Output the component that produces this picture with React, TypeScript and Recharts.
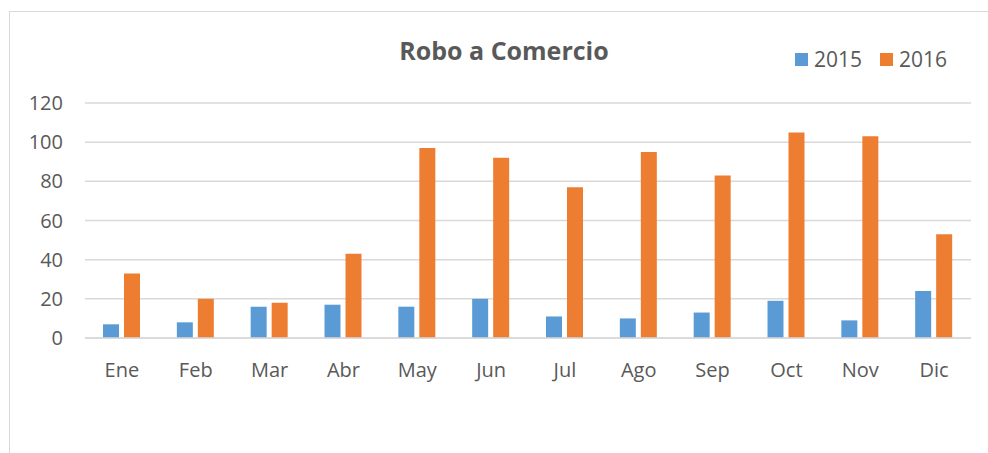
import { Bar, BarChart, CartesianGrid, XAxis, YAxis } from "recharts";

const months = ["Ene", "Feb", "Mar", "Abr", "May", "Jun", "Jul", "Ago", "Sep", "Oct", "Nov", "Dic"];
const robos2015 = [7, 8, 16, 17, 16, 20, 11, 10, 13, 19, 9, 24];
const robos2016 = [33, 20, 18, 43, 97, 92, 77, 95, 83, 105, 103, 53];
const yTicks = [0, 20, 40, 60, 80, 100, 120];

const BLUE = "#5b9bd5";
const ORANGE = "#ed7d31";
const GRID = "#d9d9d9";
const TEXT = "#595959";
const FONT = "'Open Sans', sans-serif";

const data = months.map((m, i) => ({ month: m, y2015: robos2015[i], y2016: robos2016[i] }));

const legendItems = [
  { label: "2015", color: BLUE },
  { label: "2016", color: ORANGE },
];

export default function App() {
  return (
    <div
      style={{
        position: "fixed",
        left: 0,
        top: 0,
        width: 988,
        height: 453,
        background: "#fff",
        overflow: "hidden",
        fontFamily: FONT,
      }}
    >
      <div
        style={{
          position: "absolute",
          left: 9,
          top: 11,
          width: 1000,
          height: 480,
          border: `1.5px solid ${GRID}`,
        }}
      />
      <div
        style={{
          position: "absolute",
          left: 0,
          width: 1008,
          top: 33,
          textAlign: "center",
          fontSize: 25,
          fontWeight: 700,
          color: TEXT,
        }}
      >
        Robo a Comercio
      </div>
      <div style={{ position: "absolute", left: 795, top: 45, display: "flex", fontSize: 21, color: TEXT }}>
        {legendItems.map((it) => (
          <div key={it.label} style={{ display: "flex", alignItems: "center", marginRight: 18 }}>
            <span style={{ width: 13, height: 13, background: it.color, display: "inline-block", marginRight: 6 }} />
            <span>{it.label}</span>
          </div>
        ))}
      </div>
      <div style={{ position: "absolute", left: 0, top: 0 }}>
        <BarChart
          width={988}
          height={453}
          data={data}
          margin={{ top: 103, right: 17, bottom: 75, left: 0 }}
          barSize={16}
          barGap={5}
        >
          <CartesianGrid vertical={false} stroke={GRID} strokeWidth={1.5} />
          <XAxis
            dataKey="month"
            height={40}
            tickLine={false}
            tickSize={0}
            tickMargin={25}
            axisLine={{ stroke: GRID, strokeWidth: 1.5 }}
            tick={{ fill: TEXT, fontSize: 20, fontFamily: FONT }}
          />
          <YAxis
            width={85}
            domain={[0, 120]}
            ticks={yTicks}
            axisLine={false}
            tickLine={false}
            tickSize={0}
            tickMargin={22}
            tick={{ fill: TEXT, fontSize: 20, fontFamily: FONT }}
          />
          <Bar dataKey="y2015" name="2015" fill={BLUE} isAnimationActive={false} />
          <Bar dataKey="y2016" name="2016" fill={ORANGE} isAnimationActive={false} />
        </BarChart>
      </div>
    </div>
  );
}
